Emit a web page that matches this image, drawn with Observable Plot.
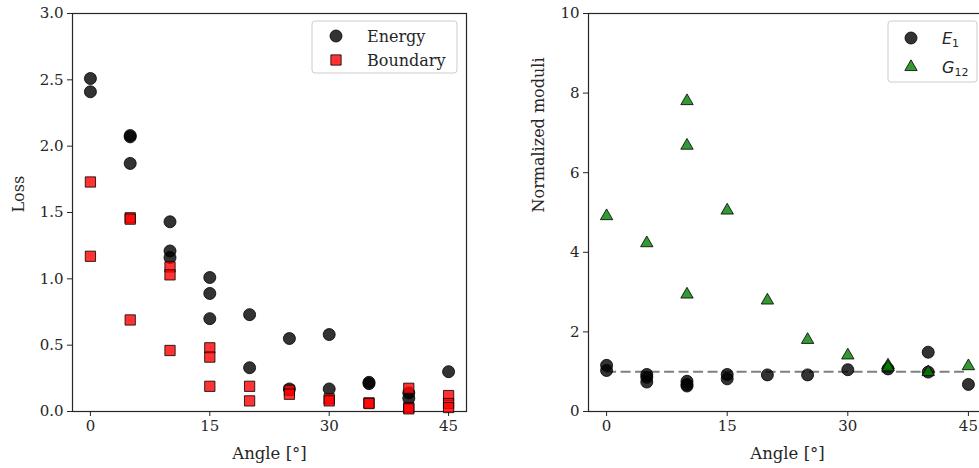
<!DOCTYPE html>
<html>
<head>
<meta charset="utf-8">
<script src="https://cdn.jsdelivr.net/npm/d3@7"></script>
<script src="https://cdn.jsdelivr.net/npm/@observablehq/plot@0.6"></script>
<style>
  html, body { margin: 0; padding: 0; background: white; }
  #wrap { position: relative; width: 979px; height: 468px; overflow: hidden; background: white; }
  #wrap > svg { position: absolute; top: 0; }
</style>
</head>
<body>
<div id="wrap"></div>
<script>
// Loss per fibre angle (left panel)
const energyAngle = [0, 0, 5, 5, 5, 10, 10, 10, 15, 15, 15, 20, 20, 25, 25, 30, 30, 35, 35, 40, 40, 45];
const energyLoss  = [2.51, 2.41, 2.08, 2.07, 1.87, 1.43, 1.21, 1.16, 1.01, 0.89, 0.70, 0.73, 0.33, 0.55, 0.17, 0.58, 0.17, 0.22, 0.21, 0.14, 0.10, 0.30];

const boundaryAngle = [0, 0, 5, 5, 5, 10, 10, 10, 15, 15, 15, 20, 20, 25, 25, 30, 30, 35, 35, 40, 40, 40, 45, 45, 45];
const boundaryLoss  = [1.73, 1.17, 1.46, 1.45, 0.69, 1.09, 1.03, 0.46, 0.48, 0.41, 0.19, 0.19, 0.08, 0.16, 0.13, 0.095, 0.08, 0.065, 0.06, 0.175, 0.03, 0.02, 0.12, 0.06, 0.03];

// Normalized moduli per fibre angle (right panel)
const e1Angle = [0, 0, 5, 5, 5, 10, 10, 10, 15, 15, 20, 25, 30, 35, 40, 40, 45];
const e1Value = [1.16, 1.03, 0.93, 0.86, 0.74, 0.76, 0.68, 0.64, 0.93, 0.82, 0.92, 0.92, 1.05, 1.07, 1.49, 0.99, 0.68];

const g12Angle = [0, 5, 10, 10, 10, 15, 20, 25, 30, 35, 35, 40, 45];
const g12Value = [4.91, 4.23, 7.80, 6.68, 2.94, 5.05, 2.79, 1.80, 1.41, 1.16, 1.11, 0.99, 1.14];

// Reference level for the moduli
const referenceLevel = [1];

// Tick labels
const angleTicks = [0, 15, 30, 45];
const lossTicks = [0, 0.5, 1.0, 1.5, 2.0, 2.5, 3.0];
const moduliTicks = [0, 2, 4, 6, 8, 10];

const toRows = (xs, ys) => xs.map((x, i) => ({angle: x, value: ys[i]}));
const energy = toRows(energyAngle, energyLoss);
const boundary = toRows(boundaryAngle, boundaryLoss);
const e1 = toRows(e1Angle, e1Value);
const g12 = toRows(g12Angle, g12Value);

const angleExtent = d3.extent(energyAngle.concat(boundaryAngle, e1Angle, g12Angle));
const pad = (angleExtent[1] - angleExtent[0]) * 0.05;
const xDomain = [angleExtent[0] - pad, angleExtent[1] + pad];

const FONT = "DejaVu Serif";
const INK = "#262626";

function axes(yTicks, yFormat, yLabel, yLabelDx) {
  return [
    Plot.axisX({ticks: angleTicks, tickSize: 5, tickPadding: 4, fontSize: 15, label: null, stroke: INK, fill: INK}),
    Plot.axisY({ticks: yTicks, tickFormat: yFormat, tickSize: 5, tickPadding: 4, fontSize: 15, label: null, stroke: INK, fill: INK}),
    Plot.text(["Angle [°]"], {frameAnchor: "bottom", dy: 42, lineAnchor: "middle", fontSize: 16.5, fill: INK}),
    Plot.text([yLabel], {frameAnchor: "left", rotate: -90, dx: yLabelDx, lineAnchor: "middle", fontSize: 16, fill: INK}),
    Plot.frame({stroke: INK, strokeWidth: 1.2})
  ];
}

const commonStyle = {fontFamily: FONT, background: "white", overflow: "visible", color: INK};

// Left panel: loss terms
const left = Plot.plot({
  width: 490, height: 468,
  marginLeft: 72, marginRight: 24, marginTop: 13, marginBottom: 57,
  style: commonStyle,
  x: {domain: xDomain},
  y: {domain: [0, 3]},
  marks: [
    ...axes(lossTicks, d3.format(".1f"), "Loss", -54),
    Plot.dot(energy, {x: "angle", y: "value", r: 6, symbol: "circle", fill: "black", fillOpacity: 0.8, stroke: "black", strokeOpacity: 0.8, strokeWidth: 1}),
    Plot.dot(boundary, {x: "angle", y: "value", r: 5.8, symbol: "square", fill: "red", fillOpacity: 0.8, stroke: "black", strokeOpacity: 0.8, strokeWidth: 1})
  ]
});
left.style.left = "0px";

// Right panel: normalized moduli
const right = Plot.plot({
  width: 496, height: 468,
  marginLeft: 98, marginRight: 0, marginTop: 13, marginBottom: 57,
  style: commonStyle,
  x: {domain: xDomain},
  y: {domain: [0, 10]},
  marks: [
    ...axes(moduliTicks, d3.format("d"), "Normalized moduli", -50),
    Plot.ruleY(referenceLevel, {x1: angleExtent[0], x2: angleExtent[1], stroke: "#7f7f7f", strokeWidth: 2, strokeDasharray: "10,4.5"}),
    Plot.dot(e1, {x: "angle", y: "value", r: 6, symbol: "circle", fill: "black", fillOpacity: 0.8, stroke: "black", strokeOpacity: 0.8, strokeWidth: 1}),
    Plot.dot(g12, {x: "angle", y: "value", r: 4.6, symbol: "triangle", fill: "green", fillOpacity: 0.8, stroke: "black", strokeOpacity: 0.8, strokeWidth: 1})
  ]
});
right.style.left = "490px";

const wrap = document.getElementById("wrap");
wrap.appendChild(left);
wrap.appendChild(right);

// Legends
function legend(svg, box, entries) {
  const g = d3.select(svg).append("g").attr("text-anchor", "start");
  g.append("rect")
    .attr("x", box.x).attr("y", box.y).attr("width", box.w).attr("height", box.h)
    .attr("rx", 3).attr("fill", "white").attr("fill-opacity", 0.8)
    .attr("stroke", "#cccccc").attr("stroke-width", 1);
  entries.forEach((e, i) => {
    const cy = box.y + box.first + i * box.step;
    const cx = box.x + box.symbolX;
    const sym = d3.symbol().type(e.type).size(Math.PI * e.r * e.r);
    g.append("path")
      .attr("transform", `translate(${cx},${cy})`)
      .attr("d", sym())
      .attr("fill", e.fill).attr("fill-opacity", 0.8)
      .attr("stroke", "black").attr("stroke-opacity", 0.8);
    const t = g.append("text")
      .attr("x", box.x + box.textX).attr("y", cy).attr("dy", "0.35em")
      .attr("text-anchor", "start")
      .attr("fill", INK).attr("font-size", 16);
    if (e.sub) {
      t.attr("font-family", "DejaVu Sans");
      t.append("tspan").attr("font-style", "italic").text(e.label);
      t.append("tspan").attr("font-size", 11).attr("dy", "0.3em").text(e.sub);
    } else {
      t.attr("font-family", FONT).text(e.label);
    }
  });
}

legend(left, {x: 312, y: 21, w: 145, h: 52, first: 15, step: 24, symbolX: 24, textX: 55}, [
  {type: d3.symbolCircle, r: 6, fill: "black", label: "Energy"},
  {type: d3.symbolSquare, r: 5.8, fill: "red", label: "Boundary"}
]);

legend(right, {x: 398, y: 21, w: 89, h: 61, first: 17, step: 29, symbolX: 23, textX: 54}, [
  {type: d3.symbolCircle, r: 6, fill: "black", label: "E", sub: "1"},
  {type: d3.symbolTriangle, r: 4.6, fill: "green", label: "G", sub: "12"}
]);
</script>
</body>
</html>
